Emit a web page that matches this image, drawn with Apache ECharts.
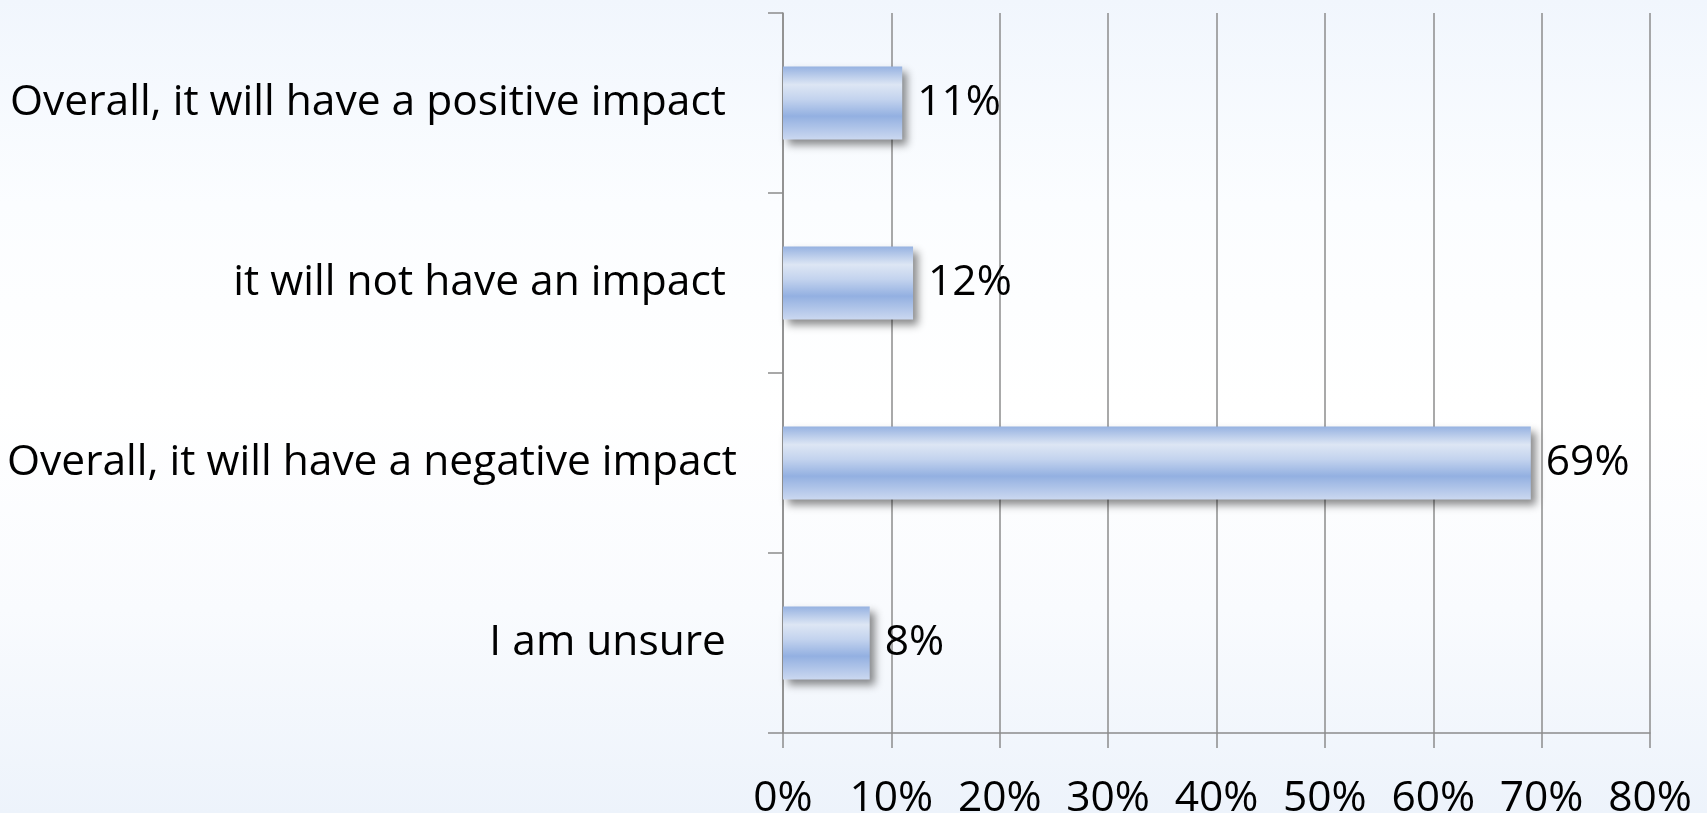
<!DOCTYPE html>
<html>
<head>
<meta charset="utf-8">
<script src="https://cdn.jsdelivr.net/npm/echarts@6/dist/echarts.min.js"></script>
<style>
html,body{margin:0;padding:0;width:1707px;height:813px;overflow:hidden;
background:linear-gradient(to bottom,#f1f6fd 0%,#fbfdff 25%,#ffffff 50%,#f9fbfe 75%,#edf3fb 100%);}
#chart{width:1707px;height:813px;}
</style>
</head>
<body>
<div id="chart"></div>
<script>
const categories = [
  'Overall, it will have a positive impact ',
  'it will not have an impact ',
  'Overall, it will have a negative impact',
  'I am unsure '
];
const values = [11, 12, 69, 8];
const xTicks = [0, 10, 20, 30, 40, 50, 60, 70, 80];

const FONT = '"Open Sans", sans-serif';
const FS = 42.5;
const chart = echarts.init(document.getElementById('chart'), null, {renderer: 'canvas'});
chart.setOption({
  backgroundColor: 'transparent',
  animation: false,
  grid: {left: 783, right: 57, top: 13, bottom: 80, containLabel: false, outerBoundsMode: 'none'},
  xAxis: {
    type: 'value',
    min: xTicks[0],
    max: xTicks[xTicks.length - 1],
    interval: xTicks[1] - xTicks[0],
    axisLine: {show: true, lineStyle: {color: '#8c8c8c', width: 1.5}},
    axisTick: {show: true, length: 15, lineStyle: {color: '#8c8c8c', width: 1.5}},
    splitLine: {show: true, lineStyle: {color: '#8c8c8c', width: 1.5}},
    axisLabel: {
      formatter: v => v + '%',
      color: '#000', fontFamily: FONT, fontSize: FS, margin: 44
    }
  },
  yAxis: {
    type: 'category',
    inverse: true,
    data: categories,
    axisLine: {show: true, lineStyle: {color: '#8c8c8c', width: 1.5}},
    axisTick: {show: true, length: 15, lineStyle: {color: '#8c8c8c', width: 1.5}},
    axisLabel: {color: '#000', fontFamily: FONT, fontSize: FS, margin: 46}
  },
  series: [{
    type: 'bar',
    data: values,
    barWidth: 73,
    itemStyle: {
      color: new echarts.graphic.LinearGradient(0, 0, 0, 1, [
        {offset: 0, color: '#96b2e1'},
        {offset: 0.25, color: '#dde6f4'},
        {offset: 0.45, color: '#c3d3ee'},
        {offset: 0.68, color: '#93b0e1'},
        {offset: 1, color: '#cbd8f0'}
      ]),
      shadowColor: 'rgba(0,0,0,0.45)',
      shadowBlur: 8,
      shadowOffsetX: 5,
      shadowOffsetY: 5
    },
    label: {
      show: true,
      position: 'right',
      distance: 15,
      formatter: p => p.value + '%',
      color: '#000', fontFamily: FONT, fontSize: FS
    }
  }]
});
</script>
</body>
</html>
